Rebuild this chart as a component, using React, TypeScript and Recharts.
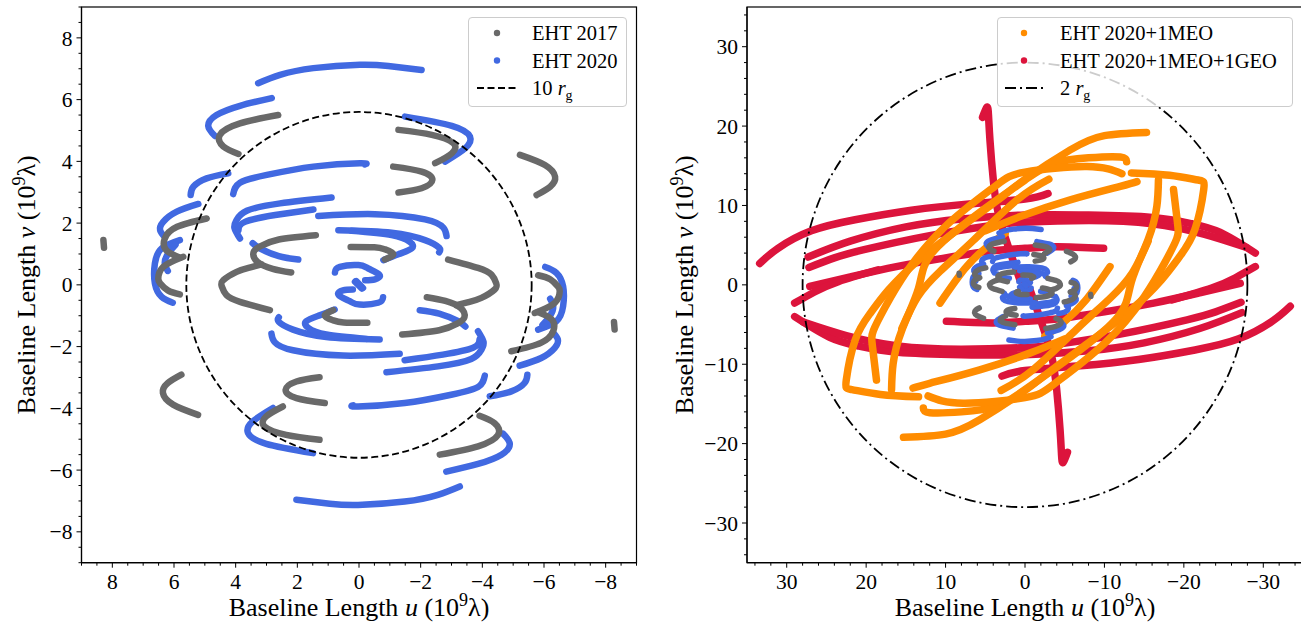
import React from "react";
import { ComposedChart, Line, XAxis, YAxis, ReferenceArea, Legend } from "recharts";

type Pt = [number, number];

// uv tracks, in units of 10^9 lambda: [u, v].
// Each listed track is drawn together with its Hermitian conjugate (-u, -v),
// which is how every uv-coverage plot shows its baselines.
const GREY_2017_TRACKS: Pt[][] = [
  [[2.62, 5.5], [3.86, 5.23], [4.51, 4.86], [4.4, 4.48], [3.91, 4.24]],
  [[-1.28, 5.02], [-2.36, 4.86], [-3.06, 4.59], [-3.01, 4.26], [-2.47, 3.94]],
  [[-1.11, 3.83], [-2.03, 3.67], [-2.38, 3.4], [-2.03, 3.13], [-1.28, 2.99]],
  [[-5.22, 4.21], [-6.03, 3.88], [-6.36, 3.5], [-6.2, 3.18], [-5.76, 2.91]],
  [[4.94, 2.15], [5.9, 1.88], [6.3, 1.5], [6.25, 1.12], [5.8, 0.88]],
  [[5.7, 0.91], [6.35, 0.58], [6.51, 0.21], [6.45, 0.05], [6.2, -0.18], [5.81, -0.31]],
  [[3.16, 0.66], [3.55, 0.56], [3.97, 0.42], [4.4, 0.15], [4.45, -0.05], [4.3, -0.33], [3.86, -0.55], [2.89, -0.82]],
  [[1.4, 1.61], [2.6, 1.47], [3.2, 1.25], [3.42, 1.05], [3.3, 0.75], [2.8, 0.52], [2.2, 0.4]],
  [[0.27, 1.23], [-0.5, 1.22], [-0.84, 1.15], [-1.11, 1.0], [-0.84, 0.82]],
  [[8.29, 1.45], [8.27, 1.2]],
];

const BLUE_2020_TRACKS: Pt[][] = [
  [[3.27, 6.53], [2.56, 6.8], [1.48, 7.02], [-0.03, 7.13], [-0.95, 7.09], [-2.03, 6.96]],
  [[2.83, 6.05], [3.86, 5.8], [4.62, 5.5], [4.89, 5.15], [4.67, 4.82]],
  [[-1.49, 5.45], [-3.01, 5.15], [-3.6, 4.8], [-3.44, 4.42], [-2.79, 3.99]],
  [[4.24, 3.61], [4.94, 3.45], [5.37, 3.18], [5.46, 2.91]],
  [[4.08, 2.94], [3.86, 3.31], [2.99, 3.56], [1.48, 3.83], [-0.03, 3.94], [-0.19, 3.9]],
  [[5.21, 2.62], [5.91, 2.37], [6.35, 2.04], [6.45, 1.77], [6.29, 1.54]],
  [[0.89, 2.83], [2.56, 2.64], [3.64, 2.4], [3.97, 2.1], [4.04, 1.85], [3.86, 1.5]],
  [[1.48, 2.44], [2.72, 2.26], [3.7, 2.04], [3.91, 1.77]],
  [[1.32, 2.23], [-0.52, 2.29], [-2.14, 2.12], [-2.74, 1.85], [-2.84, 1.58]],
  [[0.67, 1.77], [-1.06, 1.69], [-2.14, 1.45], [-2.6, 1.2], [-2.6, 1.05]],
  [[3.45, 1.35], [3.2, 1.17], [2.6, 0.93], [1.97, 0.82]],
  [[0.24, 1.75], [-1.06, 1.61], [-1.65, 1.39], [-1.71, 1.18], [-1.28, 0.99], [-0.79, 0.8]],
  [[0.78, 0.4], [0.62, 0.58], [0.02, 0.64], [-0.3, 0.53], [-0.66, 0.33], [-0.52, 0.18], [-0.2, 0.15]],
  [[0.13, 0.1], [-0.09, -0.12]],
  [[5.81, 1.45], [6.4, 1.18], [6.62, 0.69], [6.62, 0.05], [6.4, -0.39], [6.04, -0.58]],
  [[5.95, 1.3], [6.2, 1.0], [6.3, 0.7], [6.2, 0.45]],
];

const ORANGE_MEO_TRACKS: Pt[][] = [
  [[13.4, -14.1], [18.2, -13.8], [21.8, -13.2], [22.5, -12.0], [21.4, -7.0], [19.5, -3.6], [17.2, -0.65], [13.4, 3.1], [8, 7.3], [3, 11.0], [0, 13.3], [-5.7, 17.0], [-10, 18.8], [-15.3, 19.2]],
  [[16.8, -13.2], [16.6, -9.9], [15.5, -5.7], [13.4, -0.4], [11.8, 3.9], [5.9, 9.0], [0, 13.2], [-3.6, 15.3], [-8, 16.0], [-12, 16.1], [-12.8, 15.5]],
  [[18.7, -12.0], [19.2, -7.8], [19.1, -5.8], [17.6, -2.8], [15, 1.5], [10.1, 7.3], [3.8, 12.4], [0, 14.2], [-7.8, 14.9], [-12.2, 14.0]],
  [[-14.1, 13.0], [-12, 12.4], [-5.7, 10.7], [0.6, 8.6], [5, 6.8]],
  [[15.5, -5.5], [13.5, -1.5], [10.7, 1.7], [6.5, 5.6], [1.0, 10.7], [-3, 13.3]],
  [[10.7, -2.3], [7.6, 2.0], [5, 4.6], [2.5, 6.5]],
];

const RED_GEO_TRACKS: Pt[][] = [
  [[33.4, 2.7], [31.1, 4.6], [26.9, 6.8], [21.4, 8.2], [14.3, 9.4], [7, 10.2], [0, 10.8], [-2.9, 11.5]],
  [[27.3, 3.5], [22, 5.5], [15, 7.3], [8, 8.3], [0, 8.8], [-8, 8.8], [-16, 8.5], [-21, 7.7], [-24.6, 6.6], [-29, 4.0]],
  [[27.2, 2.2], [24, 3.4], [20.4, 4.4], [12, 6.2], [4, 7.5], [0, 7.9], [-8, 8.1], [-16, 7.7], [-22.5, 6.4], [-27.9, 4.7]],
  [[27.1, -0.2], [22, 1.0], [16.2, 2.3], [10, 3.4], [4, 4.3], [0, 4.6], [-4, 4.8], [-9.9, 4.6]],
  [[29, -2.3], [26.5, -0.9], [23.5, 0.4], [18.5, 1.9]],
  [[5.35, 21.1], [4.8, 22.4], [4.6, 21.4], [4.41, 18.2], [3.99, 13.2], [3.36, 9.0], [2.1, 4.8], [0.63, 0.6]],
];

const LEFT_LIMIT = 9;
const LEFT_MAJOR_TICKS = [-8, -6, -4, -2, 0, 2, 4, 6, 8];
const LEFT_MINOR_STEP = 0.5;
const RIGHT_LIMIT = 35;
const RIGHT_MAJOR_TICKS = [-30, -20, -10, 0, 10, 20, 30];
const RIGHT_MINOR_STEP = 2;
const RADIUS_10RG = 5.6;
const RADIUS_2RG = 28;

const SERIES_NAMES = ["EHT 2017", "EHT 2020", "EHT 2020+1MEO", "EHT 2020+1MEO+1GEO"];
const COLORS = { grey: "#696969", blue: "#4169e1", orange: "#ff8c00", red: "#dc143c" };

const FONT = "'Liberation Serif', 'Times New Roman', serif";

type Series = { tracks: Pt[][]; color: string; width: number; name: string };

const conj = (t: Pt[]): Pt[] => t.map(([u, v]) => [-u, -v] as Pt);
const rows = (t: Pt[]) => t.map(([u, v]) => ({ u, v }));

function trackLines(s: Series) {
  const all = s.tracks.flatMap((t) => [t, conj(t)]);
  return all.map((t, i) => (
    <Line
      key={`${s.name}-${i}`}
      data={rows(t)}
      dataKey="v"
      type="natural"
      stroke={s.color}
      strokeWidth={s.width}
      strokeLinecap="round"
      strokeLinejoin="round"
      dot={false}
      activeDot={false}
      isAnimationActive={false}
      legendType="none"
    />
  ));
}

function makeTicks(limit: number, step: number) {
  const out: number[] = [];
  const n = Math.floor(limit / step + 1e-9);
  for (let k = -n; k <= n; k++) out.push(+(k * step).toFixed(4));
  return out;
}

const fmt = (v: number) => (v < 0 ? "\u2212" + Math.abs(v) : String(v));

type LegendItem = { kind: "dot" | "line"; color: string; label: string; dash?: string; rg?: boolean };

function LegendBox({ w, h, items, markerX, lineX1, lineX2, textX }: any) {
  return (
    <svg width={w} height={h} style={{ display: "block", overflow: "visible" }}>
      <rect x={0.5} y={0.5} width={w - 1} height={h - 1} rx={3.5} fill="#ffffff" fillOpacity={0.8} stroke="#cccccc" strokeWidth={1} />
      {items.map((it: LegendItem, i: number) => {
        const y = 16 + i * 27.5;
        return (
          <g key={i}>
            {it.kind === "dot" ? (
              <circle cx={markerX} cy={y} r={3.2} fill={it.color} />
            ) : (
              <line x1={lineX1} x2={lineX2} y1={y} y2={y} stroke={it.color} strokeWidth={1.8} strokeDasharray={it.dash} />
            )}
            <text x={textX} y={y + 7} fontFamily={FONT} fontSize={20.5} fill="#000">
              {it.rg ? (
                <>
                  {it.label + " "}
                  <tspan fontStyle="italic">r</tspan>
                  <tspan dy={5} fontSize={14}>g</tspan>
                </>
              ) : (
                it.label
              )}
            </text>
          </g>
        );
      })}
    </svg>
  );
}

type PanelProps = {
  left: number;
  margin: { top: number; right: number; bottom: number; left: number };
  yAxisWidth: number;
  limit: number;
  majors: number[];
  minorStep: number;
  circleR: number;
  circleDash: string;
  series: Series[];
  legend: any;
  yLabelX: number;
};

function Panel(p: PanelProps) {
  const W = 660;
  const H = 627;
  const XH = 60;
  const plotLeft = p.margin.left + p.yAxisWidth;
  const plotRight = W - p.margin.right;
  const plotTop = p.margin.top;
  const plotBottom = H - p.margin.bottom - XH;
  const cx = (plotLeft + plotRight) / 2;
  const cy = (plotTop + plotBottom) / 2;
  const ticks = makeTicks(p.limit, p.minorStep);
  const isMajor = (v: number) => p.majors.some((m) => Math.abs(m - v) < 1e-6);

  const XTick = (tp: any) => {
    const { x, y, payload } = tp;
    const major = isMajor(payload.value);
    return (
      <g>
        <line x1={x} x2={x} y1={y} y2={y + (major ? 5 : 3)} stroke="#000" strokeWidth={1} />
        {major && (
          <text x={x} y={y + 11} dy="0.71em" textAnchor="middle" fontFamily={FONT} fontSize={21.5} fill="#000">
            {fmt(payload.value)}
          </text>
        )}
      </g>
    );
  };
  const YTick = (tp: any) => {
    const { x, y, payload } = tp;
    const major = isMajor(payload.value);
    return (
      <g>
        <line x1={x} x2={x - (major ? 5 : 3)} y1={y} y2={y} stroke="#000" strokeWidth={1} />
        {major && (
          <text x={x - 9} y={y} dy="0.355em" textAnchor="end" fontFamily={FONT} fontSize={21.5} fill="#000">
            {fmt(payload.value)}
          </text>
        )}
      </g>
    );
  };

  const xLabel = () => (
    <text x={cx} y={plotBottom + 53} textAnchor="middle" fontFamily={FONT} fontSize={26} fill="#000">
      {"Baseline Length "}
      <tspan fontStyle="italic">u</tspan>
      {" (10"}
      <tspan dy={-10} fontSize={18}>9</tspan>
      <tspan dy={10}>{"\u03bb)"}</tspan>
    </text>
  );
  const yLabel = () => (
    <text
      x={p.yLabelX}
      y={cy}
      transform={`rotate(-90 ${p.yLabelX} ${cy})`}
      textAnchor="middle"
      fontFamily={FONT}
      fontSize={26}
      fill="#000"
    >
      {"Baseline Length "}
      <tspan fontStyle="italic">v</tspan>
      {" (10"}
      <tspan dy={-10} fontSize={18}>9</tspan>
      <tspan dy={10}>{"\u03bb)"}</tspan>
    </text>
  );

  const L = p.limit;
  const R = p.circleR;

  return (
    <div style={{ position: "absolute", left: p.left, top: 0 }}>
      <ComposedChart width={W} height={H} margin={p.margin}>
        <XAxis
          type="number"
          dataKey="u"
          domain={[-L, L]}
          reversed
          allowDataOverflow
          ticks={ticks}
          interval={0}
          tick={XTick}
          tickLine={false}
          tickSize={0}
          tickMargin={0}
          height={XH}
          axisLine={{ stroke: "#000", strokeWidth: 1.2 }}
          label={{ content: xLabel }}
        />
        <YAxis
          type="number"
          domain={[-L, L]}
          allowDataOverflow
          ticks={ticks}
          interval={0}
          tick={YTick}
          tickLine={false}
          tickSize={0}
          tickMargin={0}
          width={p.yAxisWidth}
          axisLine={{ stroke: "#000", strokeWidth: 1.2 }}
          label={{ content: yLabel }}
        />
        {p.series.flatMap(trackLines)}
        <ReferenceArea
          x1={-R}
          x2={R}
          y1={-R}
          y2={R}
          ifOverflow="visible"
          zIndex={2500}
          shape={(sp: any) => (
            <ellipse
              cx={sp.x + sp.width / 2}
              cy={sp.y + sp.height / 2}
              rx={Math.abs(sp.width) / 2}
              ry={Math.abs(sp.height) / 2}
              fill="none"
              stroke="#000"
              strokeWidth={1.8}
              strokeDasharray={p.circleDash}
            />
          )}
        />
        <ReferenceArea
          x1={-L}
          x2={L}
          y1={-L}
          y2={L}
          ifOverflow="visible"
          zIndex={2600}
          shape={(sp: any) => (
            <rect x={sp.x} y={sp.y} width={sp.width} height={sp.height} fill="none" stroke="#000" strokeWidth={1.2} />
          )}
        />
        <Legend
          layout="vertical"
          align="center"
          verticalAlign="middle"
          wrapperStyle={{ position: "absolute", left: p.legend.x, top: p.legend.y, width: p.legend.w, height: p.legend.h }}
          content={() => <LegendBox {...p.legend} />}
        />
      </ComposedChart>
    </div>
  );
}

export default function App() {
  const greyL: Series = { tracks: GREY_2017_TRACKS, color: COLORS.grey, width: 6.5, name: "g" };
  const blueL: Series = { tracks: BLUE_2020_TRACKS, color: COLORS.blue, width: 6.5, name: "b" };
  const greyR: Series = { tracks: GREY_2017_TRACKS, color: COLORS.grey, width: 5.5, name: "g" };
  const blueR: Series = { tracks: BLUE_2020_TRACKS, color: COLORS.blue, width: 5.5, name: "b" };
  const orange: Series = { tracks: ORANGE_MEO_TRACKS, color: COLORS.orange, width: 7.5, name: "o" };
  const red: Series = { tracks: RED_GEO_TRACKS, color: COLORS.red, width: 7.5, name: "r" };

  const leftLegend = {
    x: 468,
    y: 17,
    w: 159,
    h: 90,
    markerX: 29,
    lineX1: 9,
    lineX2: 49,
    textX: 64,
    items: [
      { kind: "dot", color: COLORS.grey, label: SERIES_NAMES[0] },
      { kind: "dot", color: COLORS.blue, label: SERIES_NAMES[1] },
      { kind: "line", color: "#000", label: "10", dash: "7 3.5", rg: true },
    ],
  };
  const rightLegend = {
    x: 337,
    y: 17,
    w: 296,
    h: 90,
    markerX: 27,
    lineX1: 8,
    lineX2: 48,
    textX: 63,
    items: [
      { kind: "dot", color: COLORS.orange, label: SERIES_NAMES[2] },
      { kind: "dot", color: COLORS.red, label: SERIES_NAMES[3] },
      { kind: "line", color: "#000", label: "2", dash: "11 4 2 4", rg: true },
    ],
  };

  return (
    <div
      style={{
        position: "absolute",
        left: 0,
        top: 0,
        width: 1301,
        height: 627,
        overflow: "hidden",
        background: "#ffffff",
      }}
    >
      <Panel
        left={0}
        margin={{ top: 7, right: 23.5, bottom: 4.3, left: 21.5 }}
        yAxisWidth={60}
        limit={LEFT_LIMIT}
        majors={LEFT_MAJOR_TICKS}
        minorStep={LEFT_MINOR_STEP}
        circleR={RADIUS_10RG}
        circleDash="7 3.5"
        series={[blueL, greyL]}
        legend={leftLegend}
        yLabelX={35}
      />
      <Panel
        left={660}
        margin={{ top: 7, right: 17, bottom: 4.3, left: 22 }}
        yAxisWidth={65}
        limit={RIGHT_LIMIT}
        majors={RIGHT_MAJOR_TICKS}
        minorStep={RIGHT_MINOR_STEP}
        circleR={RADIUS_2RG}
        circleDash="11 4 2 4"
        series={[red, orange, blueR, greyR]}
        legend={rightLegend}
        yLabelX={33}
      />
    </div>
  );
}
